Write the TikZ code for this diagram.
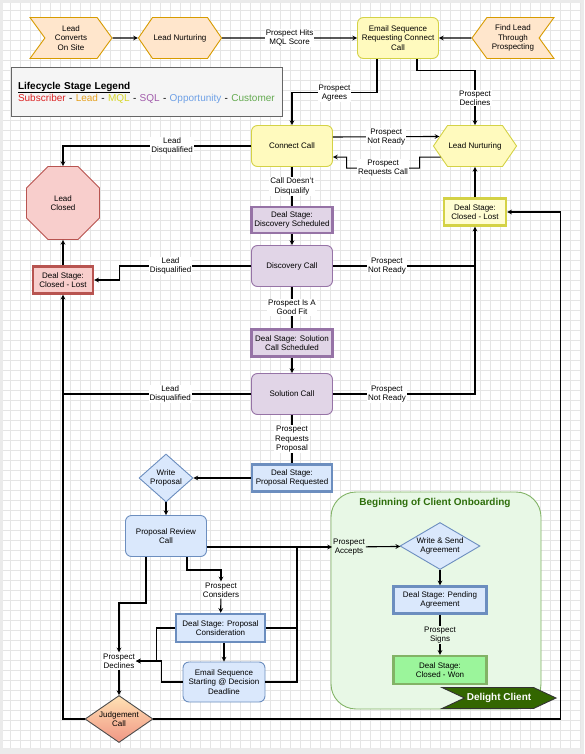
\documentclass[tikz,border=0pt]{standalone}
\usepackage{fontspec}
\setmainfont{Liberation Sans}
\usepackage{tikz}
\usetikzlibrary{arrows,shapes,positioning}
\usepackage{xcolor}
\definecolor{ldfill}{RGB}{255,230,204}
\definecolor{ldborder}{RGB}{215,155,0}
\definecolor{mqlfill}{RGB}{255,250,190}
\definecolor{mqlfill2}{RGB}{255,253,210}
\definecolor{mqlborder}{RGB}{212,210,70}
\definecolor{sqlfill}{RGB}{225,213,231}
\definecolor{sqlborder}{RGB}{150,115,166}
\definecolor{oppfill}{RGB}{218,232,252}
\definecolor{oppborder}{RGB}{108,142,191}
\definecolor{lostfill}{RGB}{248,206,204}
\definecolor{lostborder}{RGB}{184,84,80}
\definecolor{onbfill}{RGB}{232,248,230}
\definecolor{onbborder}{RGB}{130,179,102}
\definecolor{wonfill}{RGB}{155,245,155}
\definecolor{dlgreen}{RGB}{51,102,0}
\definecolor{titlegreen}{RGB}{45,110,10}
\definecolor{jctop}{RGB}{255,226,180}
\definecolor{jcbottom}{RGB}{240,150,132}
\definecolor{lgred}{RGB}{220,35,35}
\definecolor{lgorange}{RGB}{230,160,30}
\definecolor{lgyellow}{RGB}{215,215,40}
\definecolor{lgpurple}{RGB}{160,90,170}
\definecolor{lgblue}{RGB}{110,160,230}
\definecolor{lggreen}{RGB}{100,170,80}
\tikzstyle{arrow} = [line width=1.1pt,->,>=stealth]
\tikzstyle{conn} = [line width=1.1pt]
\tikzstyle{lbl} = [fill=white, inner sep=1pt]
\tikzstyle{callbox} = [rectangle, rounded corners=6pt, minimum width=81pt, minimum height=41pt, inner sep=1pt, text centered, line width=0.9pt]
\tikzstyle{dealbox} = [rectangle, minimum height=27pt, inner sep=1pt, text centered, line width=2.4pt]
\tikzstyle{chevr} = [signal, minimum width=82pt, minimum height=41pt, signal pointer angle=108, inner sep=1pt, fill=ldfill, draw=ldborder, line width=0.9pt]
\tikzstyle{hexa} = [signal, signal to=east and west, minimum width=82pt, minimum height=41pt, signal pointer angle=111, inner sep=1pt, line width=0.9pt]
\tikzstyle{decision} = [diamond, inner sep=0pt, line width=0.9pt]

\begin{document}
\begin{tikzpicture}[x=1pt, y=-1pt,
    every node/.style={font=\fontsize{8}{9.3}\selectfont, align=center}]

% Page and grid
\fill[black!8] (0,0) rectangle (584,754);
\fill[white] (3,3) rectangle (580,748);
\draw[black!10, step=10pt] (3,3) grid (580,748);
\useasboundingbox (0,0) rectangle (584,754);

% Top row
\node (lcos) [chevr, signal from=west, signal to=east] at (71,38) {Lead\\Converts\\On Site};
\node (ln1) [hexa, fill=ldfill, draw=ldborder] at (180,38) {Lead Nurturing};
\node (email) [callbox, fill=mqlfill, draw=mqlborder] at (398,38) {Email Sequence\\Requesting Connect\\Call};
\node (find) [chevr, signal from=east, signal to=west] at (513,38) {Find Lead\\Through\\Prospecting};

% Legend
\node (legend) [rectangle, fill=black!4, draw=black!60, line width=1pt, minimum width=271pt, minimum height=49pt,
    text width=257pt, align=left, font=\fontsize{10}{12}\selectfont] at (146.5,92.5)
    {\textbf{\underline{Lifecycle Stage Legend}}\\
     \textcolor{lgred}{Subscriber} - \textcolor{lgorange}{Lead} - \textcolor{lgyellow}{MQL} - \textcolor{lgpurple}{SQL} - \textcolor{lgblue}{Opportunity} - \textcolor{lggreen}{Customer}};

% Main column
\node (cc) [callbox, fill=mqlfill, draw=mqlborder] at (292,146) {Connect Call};
\node (dsds) [dealbox, minimum width=81pt, minimum height=26pt, fill=sqlfill, draw=sqlborder] at (292,220) {Deal Stage:\\Discovery Scheduled};
\node (dc) [callbox, fill=sqlfill, draw=sqlborder] at (292,266) {Discovery Call};
\node (dssc) [dealbox, minimum width=81pt, fill=sqlfill, draw=sqlborder] at (292,343) {Deal Stage: Solution\\Call Scheduled};
\node (sc) [callbox, fill=sqlfill, draw=sqlborder] at (292,394) {Solution Call};
\node (dspr) [dealbox, minimum width=80pt, fill=oppfill, draw=oppborder] at (292,478) {Deal Stage:\\Proposal Requested};

% Lost side
\node (ln2) [hexa, fill=mqlfill, draw=mqlborder] at (475,146) {Lead Nurturing};
\node (dsyel) [dealbox, minimum width=62pt, fill=mqlfill2, draw=mqlborder] at (475,212) {Deal Stage:\\Closed - Lost};
\node (lc) [regular polygon, regular polygon sides=8, minimum size=79pt, inner sep=0pt, fill=lostfill, draw=lostborder, line width=0.9pt] at (63,203) {Lead\\Closed};
\node (dsred) [dealbox, minimum width=60pt, fill=lostfill, draw=lostborder] at (63,280) {Deal Stage:\\Closed - Lost};

% Proposal
\node (wp) [decision, aspect=1.1, minimum width=54pt, minimum height=48pt, fill=oppfill, draw=oppborder] at (166,478) {Write\\Proposal};
\node (prc) [callbox, fill=oppfill, draw=oppborder] at (166,536) {Proposal Review\\Call};
\node (cons) [lbl] at (221,590) {Prospect\\Considers};
\node (dspc) [dealbox, minimum width=89pt, minimum height=28pt, fill=oppfill, draw=oppborder] at (220.5,628) {Deal Stage: Proposal\\Consideration};
\node (essd) [callbox, minimum width=82pt, minimum height=40pt, fill=oppfill, draw=oppborder] at (224,682) {Email Sequence\\Starting @ Decision\\Deadline};
\node (decl) [lbl] at (119,661) {Prospect\\Declines};
\node (jc) [decision, aspect=1.45, minimum width=68pt, minimum height=47pt, top color=jctop, bottom color=jcbottom, draw=black!70] at (119,719) {Judgement\\Call};

% Onboarding
\node (onb) [rectangle, rounded corners=25pt, minimum width=210pt, minimum height=217pt, fill=onbfill, draw=onbborder, line width=0.9pt] at (436,600.5) {};
\node (onbtitle) [font=\bfseries\fontsize{10}{12}\selectfont, text=titlegreen] at (435,503) {Beginning of Client Onboarding};
\node (acc) [lbl, fill=none] at (349,547) {Prospect\\Accepts};
\node (wsa) [decision, aspect=1.7, minimum width=80pt, minimum height=47pt, fill=oppfill, draw=oppborder] at (440,546) {Write \& Send\\Agreement};
\node (dspa) [dealbox, minimum width=93pt, fill=oppfill, draw=oppborder] at (440,600) {Deal Stage: Pending\\Agreement};
\node (dscw) [dealbox, minimum width=93pt, minimum height=28pt, fill=wonfill, draw=onbborder] at (440,670) {Deal Stage:\\Closed - Won};
\node (delight) [chevr, signal from=west, signal to=east, minimum width=114pt, minimum height=21pt, signal pointer angle=50,
    fill=dlgreen, draw=black!80, text=white, font=\bfseries\fontsize{10}{12}\selectfont] at (499,698) {Delight Client};

% Top connections
\draw[arrow] (lcos) -- (ln1);
\draw[arrow] (ln1) -- node[lbl]{Prospect Hits\\MQL Score} (email);
\draw[arrow] (find) -- (email);
\draw[arrow] ([xshift=-21pt]email.south) -- ++(0,34) -| node[lbl,pos=0.25]{Prospect\\Agrees} (cc.north);
\draw[arrow] ([xshift=19pt]email.south) -- ++(0,12) -| node[lbl,pos=0.75]{Prospect\\Declines} (ln2.north);

% Connect call
\draw[arrow] ([yshift=9pt]cc.east) -- node[lbl]{Prospect\\Not Ready} (ln2.165);
\draw[arrow] (ln2.198) -- ++(-21,0) -- ++(0,11) -- node[lbl]{Prospect\\Requests Call} ++(-73,0) -- ++(0,-11) -- ([yshift=-11pt]cc.east);
\draw[arrow] (cc.west) -| node[lbl,pos=0.21]{Lead\\Disqualified} (lc.north);
\draw[conn] (cc) -- node[lbl]{Call Doesn't\\Disqualify} (dsds);
\draw[arrow] (dsds) -- (dc);

% Discovery and solution
\draw[arrow] (dc.west) -- node[lbl,pos=0.61]{Lead\\Disqualified} ++(-132,0) |- (dsred.east);
\draw[arrow] (dsred) -- (lc);
\draw[arrow] (dc.east) -| node[lbl,pos=0.19]{Prospect\\Not Ready} (dsyel.south);
\draw[arrow] (dsyel) -- (ln2);
\draw[conn] (dc) -- node[lbl]{Prospect Is A\\Good Fit} (dssc);
\draw[arrow] (dssc) -- (sc);
\draw[conn] (sc.west) -- node[lbl,pos=0.43]{Lead\\Disqualified} (sc.west -| dsred.south);
\draw[conn] (sc.east) -| node[lbl,pos=0.19]{Prospect\\Not Ready} (dc.east -| dsyel.south);
\draw[conn] (sc) -- node[lbl]{Prospect\\Requests\\Proposal} (dspr);

% Proposal stage
\draw[arrow] (dspr) -- (wp);
\draw[arrow] (wp) -- (prc);
\coordinate (accj) at (297,547);
\draw[arrow] ([yshift=-11pt]prc.east) -- (acc);
\draw[conn] (dspc.east) -| (accj);
\draw[conn] (essd.east) -| (accj);
\draw[arrow] ([xshift=21pt]prc.south) -- ++(0,13) -| (cons);
\draw[arrow] (cons) -- (dspc);
\draw[arrow] (dspc.south -| essd.north) -- (essd.north);
\draw[arrow] ([xshift=-20pt]prc.south) -- ++(0,46) -| (decl);
\draw[arrow] (dspc.west) -- ++(-18,0) |- (decl);
\draw[arrow] (essd.west) -- ++(-21,0) |- (decl);
\draw[arrow] (decl) -- (jc);
\draw[arrow] (jc.west) -| (dsred);
\draw[arrow] (jc.east) -| ++(407,-507) -- (dsyel.east);

% Onboarding
\draw[arrow] (acc) -- (wsa);
\draw[arrow] (wsa) -- (dspa);
\draw[arrow] (dspa) -- node[lbl, fill=onbfill]{Prospect\\Signs} (dscw);
\end{tikzpicture}
\end{document}
